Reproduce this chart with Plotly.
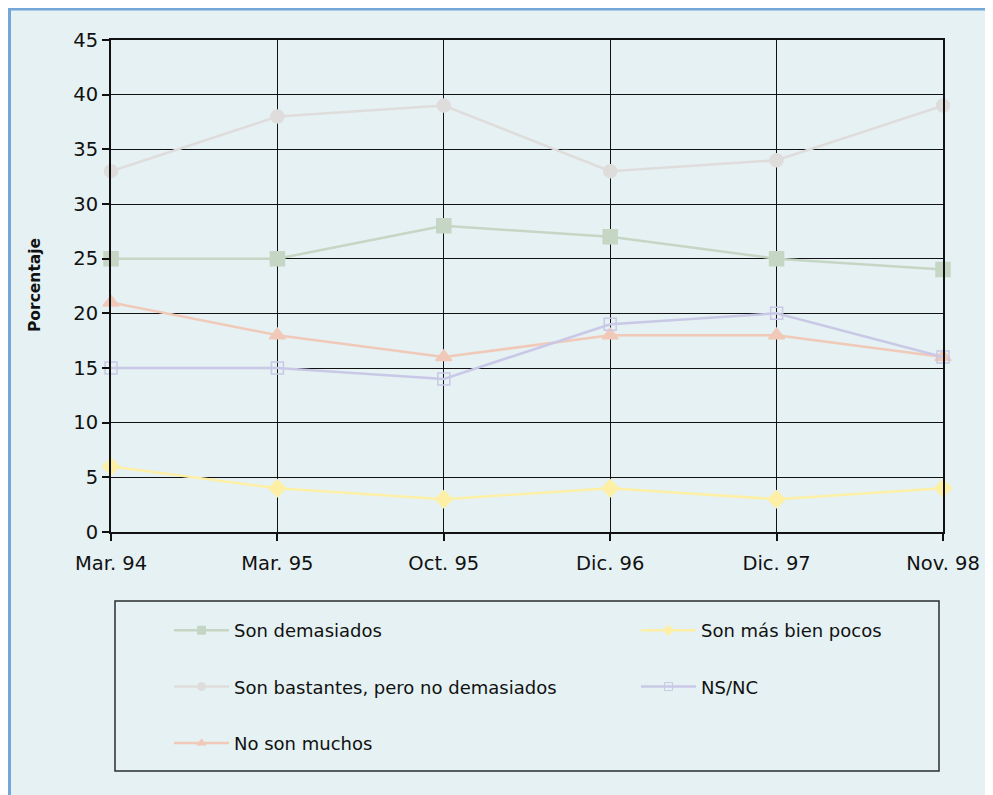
import plotly.graph_objects as go

categories = ["Mar. 94", "Mar. 95", "Oct. 95", "Dic. 96", "Dic. 97", "Nov. 98"]
son_demasiados = [25, 25, 28, 27, 25, 24]
son_bastantes = [33, 38, 39, 33, 34, 39]
no_son_muchos = [21, 18, 16, 18, 18, 16]
mas_bien_pocos = [6, 4, 3, 4, 3, 4]
ns_nc = [15, 15, 14, 19, 20, 16]
y_ticks = [0, 5, 10, 15, 20, 25, 30, 35, 40, 45]

FONT = "DejaVu Sans"
OFF = 8  # page body margin
W, H = 993 - OFF, 795 - OFF
L, T = 103, 32
PW, PH = 832, 492
R = W - L - PW
B = H - T - PH


def px(page_x):
    return (page_x - OFF - L) / PW


def py(page_y):
    return (T + PH - (page_y - OFF)) / PH


xs = list(range(len(categories)))

series = [
    ("Son demasiados", son_demasiados, "#c6d6c4", "square", 14, "legend"),
    ("Son bastantes, pero no demasiados", son_bastantes, "#dfdcdc", "circle", 13, "legend"),
    ("No son muchos", no_son_muchos, "#f1c9b9", "triangle-up", 14, "legend"),
    ("Son más bien pocos", mas_bien_pocos, "#fdf0a6", "diamond", 13, "legend2"),
    ("NS/NC", ns_nc, "#c9c8e6", "square-open", 12, "legend2"),
]

fig = go.Figure()
for name, vals, col, sym, size, leg in series:
    fig.add_trace(go.Scatter(
        x=xs, y=vals, name=name, mode="lines+markers",
        line=dict(color=col, width=2.5),
        marker=dict(symbol=sym, size=size, color=col,
                    line=dict(color=col, width=1.5)),
        cliponaxis=False, showlegend=False, legendgroup=name,
    ))
# legend entries (small symbols, as in the reference key)
for name, vals, col, sym, size, leg in series:
    fig.add_trace(go.Scatter(
        x=[None], y=[None], name=name, mode="lines+markers",
        line=dict(color=col, width=2.5),
        marker=dict(symbol=sym, size=8, color=col,
                    line=dict(color=col, width=1)),
        legend=leg, legendgroup=name, showlegend=True,
    ))

shapes = [
    dict(type="line", xref="paper", yref="paper", x0=px(0), x1=px(1010),
         y0=py(9), y1=py(9), line=dict(color="#74a6d8", width=3), layer="below"),
    dict(type="line", xref="paper", yref="paper", x0=px(9.5), x1=px(9.5),
         y0=py(820), y1=py(0), line=dict(color="#74a6d8", width=3), layer="below"),
    dict(type="rect", xref="paper", yref="paper", x0=px(115), x1=px(939),
         y0=py(771), y1=py(601), line=dict(color="#2a2d2d", width=1.5),
         fillcolor="rgba(0,0,0,0)"),
]

legend_common = dict(xanchor="left", yanchor="top", orientation="v",
                     bgcolor="rgba(0,0,0,0)", borderwidth=0,
                     tracegroupgap=30, itemwidth=55, itemsizing="trace",
                     font=dict(family=FONT, size=18, color="#111111"))

fig.update_layout(
    width=W, height=H,
    margin=dict(l=L, r=R, t=T, b=B),
    paper_bgcolor="#e5f1f3",
    plot_bgcolor="rgba(0,0,0,0)",
    font=dict(family=FONT, size=19.5, color="#111111"),
    shapes=shapes,
    showlegend=True,
    legend=dict(x=px(169), y=py(612), **legend_common),
    legend2=dict(x=px(636), y=py(612), **legend_common),
    annotations=[dict(text="<b>Porcentaje</b>", xref="paper", yref="paper",
                      x=px(35), y=py(285), textangle=-90, showarrow=False,
                      xanchor="center", yanchor="middle",
                      font=dict(family=FONT, size=15.5, color="#111111"))],
)

fig.update_xaxes(
    range=[0, len(categories) - 1], tickvals=xs, ticktext=categories,
    showgrid=True, gridcolor="#111111", gridwidth=1,
    showline=True, linecolor="#111111", linewidth=2, mirror=True,
    ticks="outside", ticklen=7, tickcolor="#111111", tickwidth=1.5,
    ticklabelstandoff=6, zeroline=False,
    tickfont=dict(family=FONT, size=19.5, color="#111111"),
)
fig.update_yaxes(
    range=[0, 45], tickvals=y_ticks,
    showgrid=True, gridcolor="#111111", gridwidth=1,
    showline=True, linecolor="#111111", linewidth=2, mirror=True,
    ticks="outside", ticklen=7, tickcolor="#111111", tickwidth=1.5,
    zeroline=False,
    tickfont=dict(family=FONT, size=19.5, color="#111111"),
)

fig.write_html("out.html")
